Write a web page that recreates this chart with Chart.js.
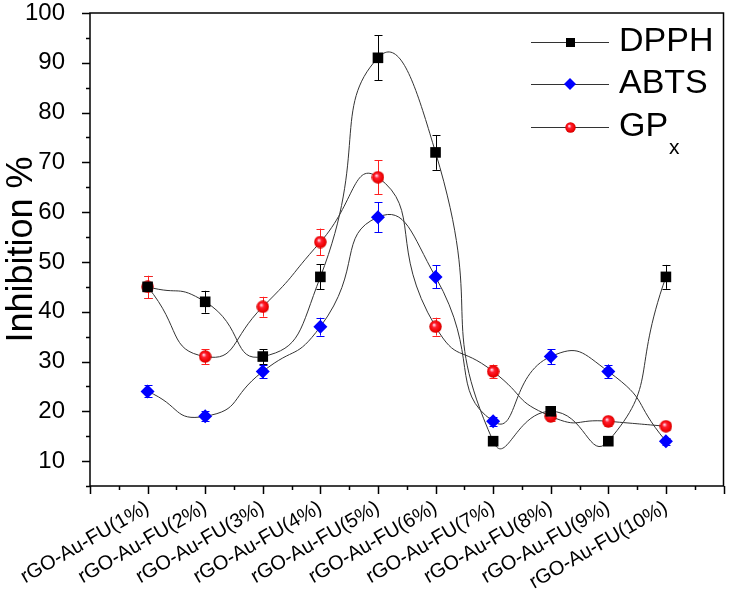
<!DOCTYPE html>
<html>
<head>
<meta charset="utf-8">
<script src="https://cdn.jsdelivr.net/npm/chart.js@4/dist/chart.umd.min.js"></script>
<style>
  html, body { margin: 0; padding: 0; background: #fff; }
  #wrap { width: 731px; height: 594px; }
</style>
</head>
<body>
<div id="wrap"><canvas id="myChart" width="731" height="594"></canvas></div>
<script>
const categories = [
  'rGO-Au-FU(1%)', 'rGO-Au-FU(2%)', 'rGO-Au-FU(3%)', 'rGO-Au-FU(4%)', 'rGO-Au-FU(5%)',
  'rGO-Au-FU(6%)', 'rGO-Au-FU(7%)', 'rGO-Au-FU(8%)', 'rGO-Au-FU(9%)', 'rGO-Au-FU(10%)'
];

const dpph = [45, 42, 31, 47, 91, 72, 14, 20, 14, 47];
const dpphErr = [2.2, 2.2, 1.5, 2.5, 4.5, 3.5, 0.7, 1.0, 0.7, 2.4];

const abts = [24, 19, 28, 37, 59, 47, 18, 31, 28, 14];
const abtsErr = [1.2, 1.0, 1.4, 1.8, 3.0, 2.3, 0.9, 1.5, 1.4, 0.7];

const gpx = [45, 31, 41, 54, 67, 37, 28, 19, 18, 17];
const gpxErr = [2.2, 1.5, 2.0, 2.7, 3.4, 1.8, 1.4, 1.0, 0.9, 0.8];

const yTicks = [10, 20, 30, 40, 50, 60, 70, 80, 90, 100];

// shaded red ball marker
function makeBall(d) {
  const c = document.createElement('canvas');
  c.width = d; c.height = d;
  const g = c.getContext('2d');
  const grad = g.createRadialGradient(d * 0.38, d * 0.36, 0.5, d / 2, d / 2, d / 2);
  grad.addColorStop(0, '#ffd0e0');
  grad.addColorStop(0.3, '#ff2030');
  grad.addColorStop(0.8, '#ee0000');
  grad.addColorStop(1, '#c00000');
  g.fillStyle = grad;
  g.beginPath();
  g.arc(d / 2, d / 2, d / 2 - 0.3, 0, Math.PI * 2);
  g.fill();
  return c;
}
const ball = makeBall(13);

const toXY = arr => arr.map((v, i) => ({ x: i + 1, y: v }));

const errorBars = {
  id: 'errorBars',
  beforeDatasetsDraw(chart) {
    const ctx = chart.ctx;
    const y = chart.scales.y;
    chart.data.datasets.forEach((ds, di) => {
      const meta = chart.getDatasetMeta(di);
      ctx.save();
      ctx.strokeStyle = ds.errColor;
      ctx.lineWidth = 1;
      meta.data.forEach((pt, i) => {
        const v = ds.data[i].y, e = ds.err[i];
        const y1 = y.getPixelForValue(v + e), y2 = y.getPixelForValue(v - e);
        const px = Math.round(pt.x) + 0.5;
        ctx.beginPath();
        ctx.moveTo(px, y1); ctx.lineTo(px, y2);
        ctx.moveTo(px - 4, Math.round(y1) + 0.5); ctx.lineTo(px + 4, Math.round(y1) + 0.5);
        ctx.moveTo(px - 4, Math.round(y2) + 0.5); ctx.lineTo(px + 4, Math.round(y2) + 0.5);
        ctx.stroke();
      });
      ctx.restore();
    });
  }
};

const frameAndTicks = {
  id: 'frameAndTicks',
  afterDraw(chart) {
    const ctx = chart.ctx;
    const a = chart.chartArea;
    const xs = chart.scales.x, ys = chart.scales.y;
    ctx.save();
    ctx.strokeStyle = '#000';
    ctx.lineWidth = 1.5;
    ctx.strokeRect(a.left, a.top, a.right - a.left, a.bottom - a.top);
    ctx.beginPath();
    for (let v = 5; v <= 100; v += 5) {
      const py = Math.round(ys.getPixelForValue(v)) + 0.5;
      const len = v % 10 === 0 ? 8 : 4;
      ctx.moveTo(a.left, py); ctx.lineTo(a.left - len, py);
    }
    for (let v = 0; v <= 11; v += 0.5) {
      const px = Math.round(xs.getPixelForValue(v)) + 0.5;
      const len = v % 1 === 0 ? 8 : 4;
      ctx.moveTo(px, a.bottom); ctx.lineTo(px, a.bottom + len);
    }
    ctx.stroke();

    // legend
    const rows = [
      { y: 42, label: 'DPPH', sub: '' },
      { y: 84, label: 'ABTS', sub: '' },
      { y: 127, label: 'GP', sub: 'x' }
    ];
    chart.data.datasets.forEach((ds, i) => {
      const r = rows[i];
      ctx.strokeStyle = '#333';
      ctx.lineWidth = 1;
      ctx.beginPath();
      ctx.moveTo(531, r.y + 0.5); ctx.lineTo(609, r.y + 0.5);
      ctx.stroke();
      if (ds.pointStyle === 'rect') {
        ctx.fillStyle = '#000';
        ctx.fillRect(566, r.y - 4, 9, 9);
      } else if (ds.pointStyle === 'rectRot') {
        ctx.fillStyle = '#0000ff';
        ctx.beginPath();
        ctx.moveTo(570, r.y - 6); ctx.lineTo(576, r.y); ctx.lineTo(570, r.y + 6); ctx.lineTo(564, r.y);
        ctx.closePath(); ctx.fill();
      } else {
        ctx.drawImage(makeBall(11), 565, r.y - 5);
      }
      ctx.fillStyle = '#000';
      ctx.font = '34px "Liberation Sans", Arial, sans-serif';
      ctx.textBaseline = 'middle';
      ctx.textAlign = 'left';
      ctx.fillText(r.label, 619, r.y);
      if (r.sub) {
        const w = ctx.measureText(r.label).width;
        ctx.font = '21px "Liberation Sans", Arial, sans-serif';
        ctx.fillText(r.sub, 619 + w + 1, r.y + 21);
      }
    });
    ctx.restore();
  }
};

const ctx = document.getElementById('myChart');

const myChart = new Chart(ctx, {
  type: 'line',
  data: {
    datasets: [
      {
        label: 'DPPH',
        data: toXY(dpph),
        err: dpphErr,
        errColor: '#000',
        borderColor: '#333',
        borderWidth: 1,
        tension: 0.6,
        pointStyle: 'rect',
        pointRadius: 7.5,
        pointBackgroundColor: '#000',
        pointBorderWidth: 0
      },
      {
        label: 'ABTS',
        data: toXY(abts),
        err: abtsErr,
        errColor: '#0000ff',
        borderColor: '#333',
        borderWidth: 1,
        tension: 0.6,
        pointStyle: 'rectRot',
        pointRadius: 7,
        pointBackgroundColor: '#0000ff',
        pointBorderWidth: 0
      },
      {
        label: 'GPx',
        data: toXY(gpx),
        err: gpxErr,
        errColor: '#ff2020',
        borderColor: '#333',
        borderWidth: 1,
        tension: 0.6,
        pointStyle: ball,
        pointRadius: 6.5,
        pointBorderWidth: 0
      }
    ]
  },
  options: {
    responsive: false,
    animation: false,
    clip: false,
    layout: { padding: { top: 13, right: 2, left: 0, bottom: 0 } },
    plugins: {
      legend: { display: false },
      tooltip: { enabled: false }
    },
    scales: {
      x: {
        type: 'linear',
        min: 0,
        max: 11,
        grid: { display: false },
        border: { display: false },
        afterFit(scale) {
          scale.height = 108;
          scale.paddingLeft = 0;
          scale.paddingRight = 0;
        },
        afterBuildTicks(scale) {
          scale.ticks = categories.map((c, i) => ({ value: i + 1 }));
        },
        ticks: {
          autoSkip: false,
          maxRotation: 30,
          minRotation: 30,
          padding: 2,
          color: '#000',
          font: { family: '"Liberation Sans", Arial, sans-serif', size: 20 },
          callback: v => categories[v - 1] || ''
        }
      },
      y: {
        min: 5,
        max: 100,
        grid: { display: false },
        border: { display: false },
        afterFit(scale) {
          scale.width = 90;
          scale.paddingTop = 0;
          scale.paddingBottom = 0;
        },
        afterBuildTicks(scale) {
          scale.ticks = yTicks.map(v => ({ value: v }));
        },
        ticks: {
          padding: 17,
          color: '#000',
          font: { family: '"Liberation Sans", Arial, sans-serif', size: 24 }
        },
        title: {
          display: true,
          text: 'Inhibition %',
          color: '#000',
          padding: 0,
          font: { family: '"Liberation Sans", Arial, sans-serif', size: 36 }
        }
      }
    }
  },
  plugins: [errorBars, frameAndTicks]
});
</script>
</body>
</html>
